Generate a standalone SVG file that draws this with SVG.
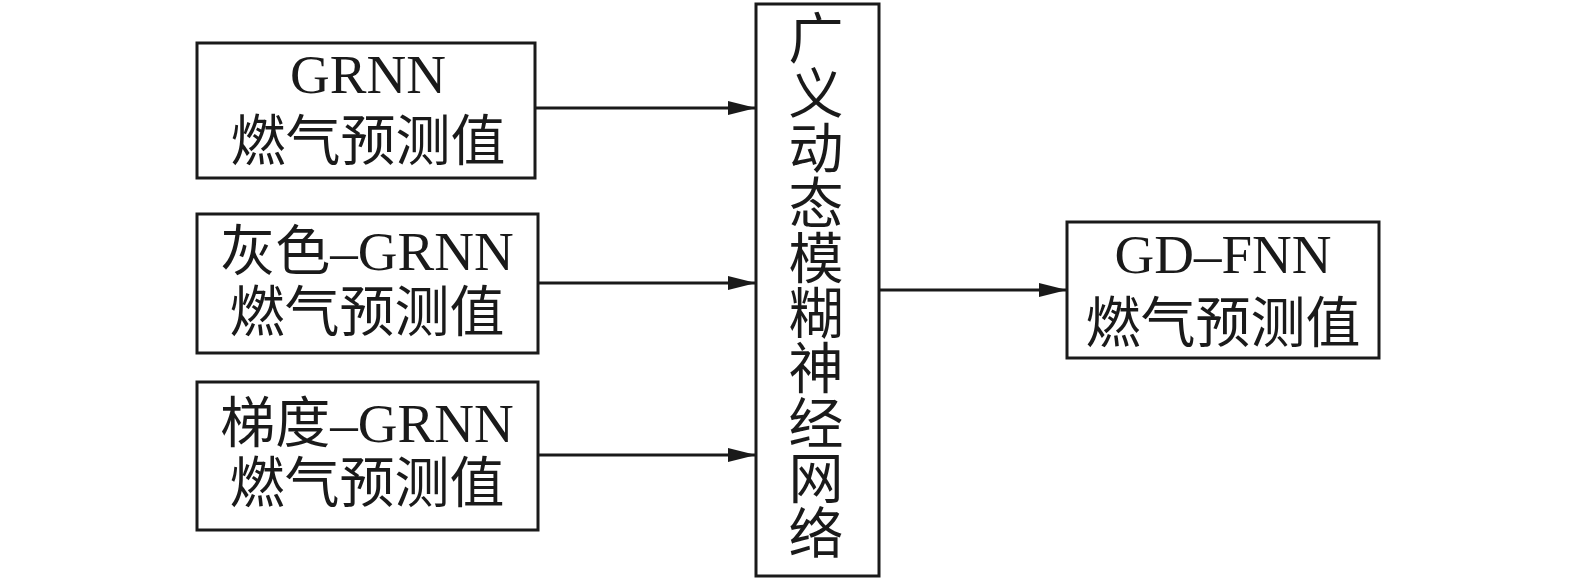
<svg xmlns="http://www.w3.org/2000/svg" width="1575" height="581" viewBox="0 0 1575 581">
<style>
.box{fill:#fff;stroke:#1a1a1a;stroke-width:3}
.t{font-family:"Liberation Serif","Noto Sans CJK SC",serif;font-size:55px;fill:#1a1a1a;text-anchor:middle}
.c{stroke:#1a1a1a;stroke-width:3;fill:none}
</style>
<defs>
<marker id="ah" markerWidth="28" markerHeight="14" refX="28" refY="7" orient="auto" markerUnits="userSpaceOnUse">
<path d="M0,0 L28,7 L0,14 Z" fill="#1a1a1a"/>
</marker>
</defs>
<rect width="1575" height="581" fill="#fff"/>
<g id="connectors">
<line class="c" x1="535" y1="108" x2="756" y2="108" marker-end="url(#ah)"/>
<line class="c" x1="538" y1="283" x2="756" y2="283" marker-end="url(#ah)"/>
<line class="c" x1="538" y1="455" x2="756" y2="455" marker-end="url(#ah)"/>
<line class="c" x1="879" y1="290" x2="1067" y2="290" marker-end="url(#ah)"/>
</g>
<g id="grnn">
<rect class="box" x="197" y="43" width="338" height="135"/>
<text class="t" x="368" y="93">GRNN</text>
<text class="t" x="368" y="160">燃气预测值</text>
</g>
<g id="grey-grnn">
<rect class="box" x="197" y="214" width="341" height="139"/>
<text class="t" x="367" y="270">灰色–GRNN</text>
<text class="t" x="367" y="331">燃气预测值</text>
</g>
<g id="grad-grnn">
<rect class="box" x="197" y="382" width="341" height="148"/>
<text class="t" x="367" y="442">梯度–GRNN</text>
<text class="t" x="367" y="502">燃气预测值</text>
</g>
<g id="gdfnn-net">
<rect class="box" x="756" y="4" width="123" height="572"/>
<text class="t" x="816" y="58">广</text>
<text class="t" x="816" y="113">义</text>
<text class="t" x="816" y="168">动</text>
<text class="t" x="816" y="223">态</text>
<text class="t" x="816" y="278">模</text>
<text class="t" x="816" y="333">糊</text>
<text class="t" x="816" y="388">神</text>
<text class="t" x="816" y="443">经</text>
<text class="t" x="816" y="498">网</text>
<text class="t" x="816" y="553">络</text>
</g>
<g id="gdfnn-out">
<rect class="box" x="1067" y="222" width="312" height="136"/>
<text class="t" x="1223" y="273">GD–FNN</text>
<text class="t" x="1223" y="342">燃气预测值</text>
</g>
</svg>
